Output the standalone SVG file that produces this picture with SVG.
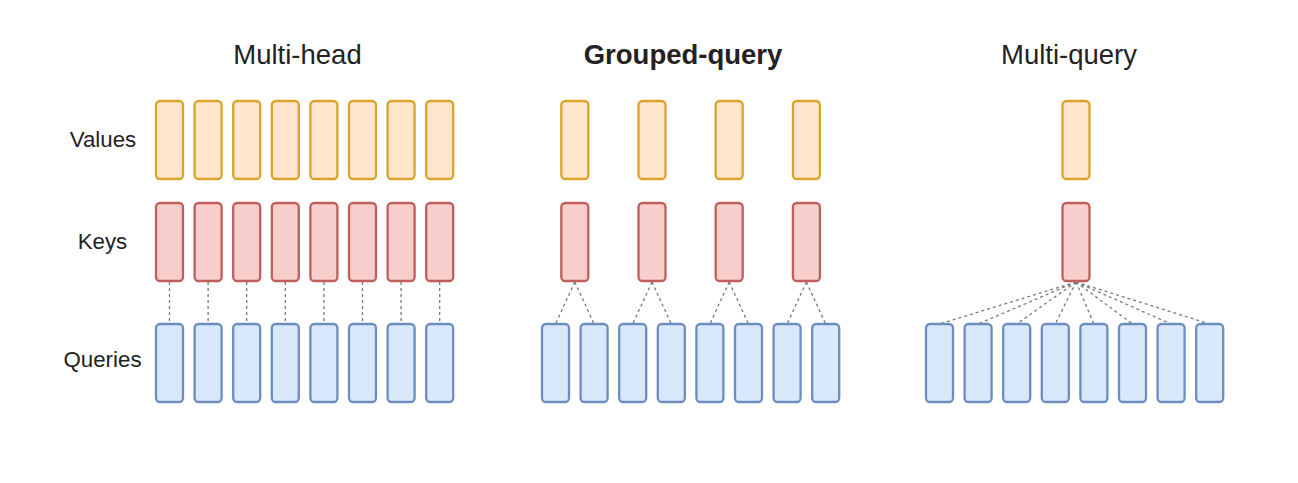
<svg xmlns="http://www.w3.org/2000/svg" width="1298" height="483" viewBox="0 0 1298 483">
<style>
.t{font-family:"Liberation Sans",Arial,sans-serif;fill:#222;text-anchor:middle}
.title{font-size:27.5px}
.lbl{font-size:22.3px}
.v{fill:#ffe6cc;stroke:#d9a429;stroke-width:2.3}
.k{fill:#f8cecc;stroke:#bf5e5a;stroke-width:2.3}
.q{fill:#dae8fc;stroke:#6c8ebf;stroke-width:2.3}
.c{stroke:#7a7a7a;stroke-width:1.3;stroke-dasharray:3 3;fill:none}
</style>
<defs>
<rect id="box" width="27" height="78" rx="4"/>
</defs>
<rect width="1298" height="483" fill="#fff"/>
<g id="titles">
<text class="t title" x="297.5" y="64">Multi-head</text>
<text class="t title" x="683" y="64" font-weight="bold">Grouped-query</text>
<text class="t title" x="1069" y="64">Multi-query</text>
</g>
<g id="row-labels">
<text class="t lbl" x="103" y="146.5">Values</text>
<text class="t lbl" x="102.5" y="248.5">Keys</text>
<text class="t lbl" x="102.5" y="367">Queries</text>
</g>
<g id="connectors">
<path class="c" d="M169.5 282V324M208.1 282V324M246.7 282V324M285.3 282V324M323.9 282V324M362.5 282V324M401.1 282V324M439.7 282V324"/>
<path class="c" d="M574.8 282L555.5 324M574.8 282L594.1 324M652 282L632.7 324M652 282L671.3 324M729.2 282L709.9 324M729.2 282L748.5 324M806.4 282L787.1 324M806.4 282L825.7 324"/>
<path class="c" d="M1076 282L939.5 324M1076 282L978.1 324M1076 282L1016.7 324M1076 282L1055.3 324M1076 282L1093.9 324M1076 282L1132.5 324M1076 282L1171.1 324M1076 282L1209.7 324"/>
</g>
<g id="multi-head">
<g id="mh-values" class="v">
<use href="#box" x="156" y="101"/><use href="#box" x="194.6" y="101"/><use href="#box" x="233.2" y="101"/><use href="#box" x="271.8" y="101"/><use href="#box" x="310.4" y="101"/><use href="#box" x="349" y="101"/><use href="#box" x="387.6" y="101"/><use href="#box" x="426.2" y="101"/>
</g>
<g id="mh-keys" class="k">
<use href="#box" x="156" y="203"/><use href="#box" x="194.6" y="203"/><use href="#box" x="233.2" y="203"/><use href="#box" x="271.8" y="203"/><use href="#box" x="310.4" y="203"/><use href="#box" x="349" y="203"/><use href="#box" x="387.6" y="203"/><use href="#box" x="426.2" y="203"/>
</g>
<g id="mh-queries" class="q">
<use href="#box" x="156" y="324"/><use href="#box" x="194.6" y="324"/><use href="#box" x="233.2" y="324"/><use href="#box" x="271.8" y="324"/><use href="#box" x="310.4" y="324"/><use href="#box" x="349" y="324"/><use href="#box" x="387.6" y="324"/><use href="#box" x="426.2" y="324"/>
</g>
</g>
<g id="grouped-query">
<g id="gq-values" class="v">
<use href="#box" x="561.3" y="101"/><use href="#box" x="638.5" y="101"/><use href="#box" x="715.7" y="101"/><use href="#box" x="792.9" y="101"/>
</g>
<g id="gq-keys" class="k">
<use href="#box" x="561.3" y="203"/><use href="#box" x="638.5" y="203"/><use href="#box" x="715.7" y="203"/><use href="#box" x="792.9" y="203"/>
</g>
<g id="gq-queries" class="q">
<use href="#box" x="542" y="324"/><use href="#box" x="580.6" y="324"/><use href="#box" x="619.2" y="324"/><use href="#box" x="657.8" y="324"/><use href="#box" x="696.4" y="324"/><use href="#box" x="735" y="324"/><use href="#box" x="773.6" y="324"/><use href="#box" x="812.2" y="324"/>
</g>
</g>
<g id="multi-query">
<g id="mq-values" class="v"><use href="#box" x="1062.5" y="101"/></g>
<g id="mq-keys" class="k"><use href="#box" x="1062.5" y="203"/></g>
<g id="mq-queries" class="q">
<use href="#box" x="926" y="324"/><use href="#box" x="964.6" y="324"/><use href="#box" x="1003.2" y="324"/><use href="#box" x="1041.8" y="324"/><use href="#box" x="1080.4" y="324"/><use href="#box" x="1119" y="324"/><use href="#box" x="1157.6" y="324"/><use href="#box" x="1196.2" y="324"/>
</g>
</g>
</svg>
